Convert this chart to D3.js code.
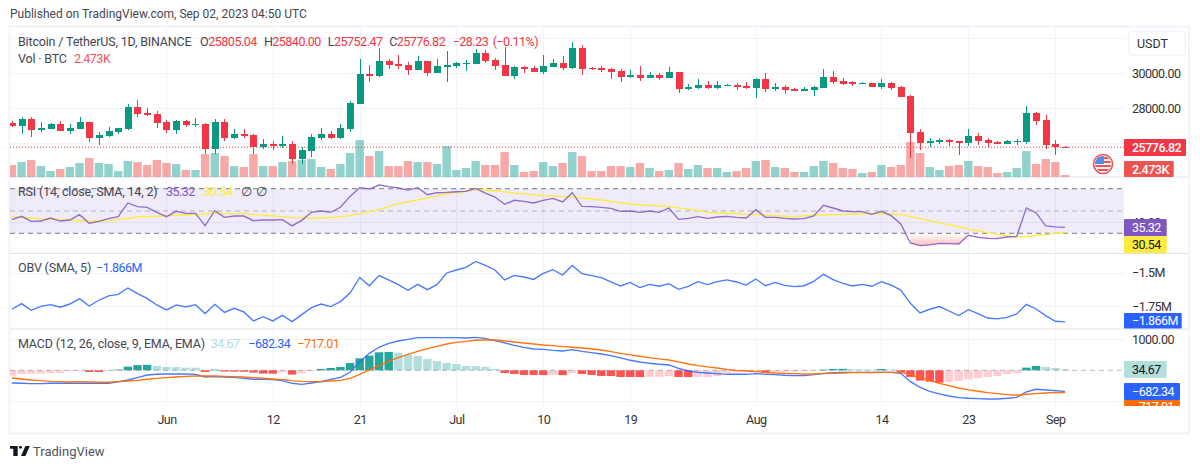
<!DOCTYPE html>
<html><head><meta charset="utf-8">
<style>
html,body{margin:0;padding:0;background:#fff;overflow:hidden}
text{font-family:Roboto,"Open Sans",sans-serif;}
</style>
<script src="https://cdn.jsdelivr.net/npm/d3@7/dist/d3.min.js"></script>
</head><body><svg id="c" width="1200" height="469" xmlns="http://www.w3.org/2000/svg"></svg>
<script>
const startDate = "2023-05-16";
const opens = [
27181,27010,27390,26762,26838,27105,26724,26838,27219,26324,26438,26648,26819,28076,27733,27676,
27219,26781,27276,27048,27105,25695,27219,26305,26533,26476,25790,25962,25848,25962,25105,25562,26305,26533,26305,26819,28248,29962,29848,30705,30533,30476,30191,30705,30019,30362,
30419,30533,30533,31162,30762,30476,29848,30362,30305,30076,30362,30591,30305,31448,30305,30305,30248,30133,29791,29905,29733,29905,29733,30076,29105,29162,29333,29162,29276,29333,29276,
29162,29676,29105,29219,29105,28991,29048,29162,29791,29562,29505,29391,29448,29219,29448,29219,28705,26648,26019,26076,26190,26133,26019,26419,26190,26076,25962,26076,26076,27733,27333,
25962,25805.04];
const highs = [
27276,27505,27505,27219,27162,27276,27105,27505,27219,26648,26933,26876,28248,28476,28019,27848,
27333,27333,27333,27448,27162,27390,27390,26819,26819,26533,26248,26133,26419,26133,25790,26533,26876,26705,27105,28419,30819,30476,31448,30819,31048,30648,30991,30705,30819,31276,
30648,30762,31391,31333,30876,31505,30419,30419,30419,31048,30819,30991,31790,31619,30362,30419,30305,30248,30191,30419,30076,30019,30362,30076,29391,29676,29562,29562,29391,29448,29505,
29733,30019,29448,29333,29162,29219,29276,30248,30133,29733,29562,29505,29448,29676,29505,29276,28762,26819,26305,26305,26248,26133,26819,26590,26305,26133,26190,26248,28133,27790,27619,
26190,25840];
const lows = [
26952,26533,26362,26667,26819,26705,26533,26819,26076,25905,26362,26533,26762,27505,27562,26876,
26590,26533,26952,26933,25390,25390,26133,26248,26305,25390,25676,25619,25733,24819,24819,25219,26190,26248,26248,26648,28248,29505,29791,30248,30248,29905,30191,29848,30019,29505,
30305,30133,30533,30591,30191,29848,29657,30019,30076,29962,30362,30191,30248,29905,30191,30076,29676,29505,29733,29562,29733,29619,29733,28876,29048,29105,29105,29105,29276,29048,29105,
28591,28933,28991,28819,28991,28991,28705,29162,29391,29333,29276,29391,29219,29105,29048,28648,25161,25619,25790,25962,25848,25333,25848,25905,25790,25962,25962,25905,25962,27048,25676,
25333,25752.47];
const closes = [
26990,27390,26781,26876,27105,26724,26876,27219,26324,26476,26705,26876,28076,27695,27619,27162,
26762,27276,27048,27105,25695,27219,26324,26533,26419,25790,25962,25848,25962,25105,25619,26362,26533,26305,26876,28305,29962,29848,30705,30476,30419,30191,30705,30019,30419,30476,
30591,30591,31162,30705,30419,29848,30362,30248,30076,30419,30591,30305,31448,30248,30248,30191,30076,29791,29905,29733,29905,29733,30076,29105,29219,29333,29162,29333,29333,29219,29162,
29676,29105,29219,29048,28991,29105,29219,29791,29505,29391,29391,29448,29219,29448,29162,28648,26590,26019,26133,26190,26076,26019,26419,26133,26019,25962,26133,26133,27733,27276,25905,
25790,25776.82];
const volumesK = [
14.9,18.6,21.1,13.6,7.4,9.9,12.4,17.4,23.6,17.4,16.1,7.4,19.8,18.6,14.9,21.1,
17.4,16.1,8.7,8.7,28.5,29.8,26.0,13.6,12.4,28.5,13.6,13.6,18.6,19.8,21.1,22.3,12.4,9.9,16.1,29.8,45.9,26.0,32.2,13.6,13.6,19.8,18.6,18.6,16.1,38.4,
8.7,11.2,19.8,14.9,14.9,31.0,14.9,6.2,7.4,18.6,13.6,17.4,31.0,26.0,7.4,7.4,13.6,13.6,12.4,17.4,11.2,7.4,8.7,17.4,9.9,14.9,11.2,11.2,6.2,7.4,11.2,
19.8,21.1,12.4,11.2,6.2,6.2,13.6,19.8,17.4,11.2,9.9,5.0,6.2,14.9,12.4,14.9,43.4,29.8,12.4,8.7,13.6,14.9,19.8,13.6,12.4,5.0,6.2,11.2,32.2,16.1,22.3,
18.6,2.473];
const rsi = [
42.2,45.2,40.7,41.0,43.7,41.0,41.9,46.7,39.0,40.7,43.1,44.9,57.2,53.9,53.3,48.8,
44.9,49.7,47.9,47.9,36.9,50.3,44.3,45.5,45.5,41.3,41.9,41.9,42.2,36.6,41.6,48.8,50.0,48.8,53.3,63.1,70.9,69.7,73.3,71.8,70.6,68.8,70.9,64.6,66.4,66.7,
67.3,67.6,70.3,66.1,62.5,56.0,59.6,58.7,57.2,59.6,61.3,58.1,66.4,54.2,53.9,53.3,52.4,49.7,50.0,48.8,50.0,48.8,52.7,42.5,43.4,44.9,43.4,44.6,45.2,44.3,43.7,
51.2,44.3,44.3,43.4,42.8,43.1,45.5,55.1,52.7,50.0,49.4,49.4,47.0,49.7,45.8,38.4,21.3,19.0,19.6,21.0,20.7,20.4,28.2,26.4,25.5,25.2,26.7,27.3,52.7,48.5,36.6,
35.7,35.32];
const rsiSma = [
44.9,44.4,43.7,43.2,42.7,42.2,41.8,41.5,41.1,40.8,41.3,42.2,43.4,44.6,45.0,45.3,
45.8,46.2,46.6,47.0,47.3,47.6,47.6,47.6,47.6,47.0,46.3,45.5,44.7,44.0,43.8,43.7,43.7,44.2,45.0,45.8,47.6,49.4,51.2,53.9,56.6,58.3,59.9,61.8,63.6,65.5,
66.7,67.9,69.1,68.8,68.2,67.2,66.1,65.3,64.5,63.7,63.3,62.9,62.5,61.6,60.8,59.9,58.7,57.5,56.3,55.7,55.1,54.5,53.9,52.8,51.7,50.6,48.8,48.4,48.0,47.6,47.1,
46.7,46.3,45.8,45.3,44.9,45.5,46.1,46.4,46.7,47.0,47.3,47.5,47.7,47.9,47.3,46.7,44.9,43.1,41.3,39.4,37.6,35.7,34.0,32.3,30.6,29.2,27.8,26.4,27.2,28.0,28.8,
30.0,30.54];
const obvM = [
-1.772,-1.730,-1.780,-1.750,-1.738,-1.757,-1.733,-1.693,-1.748,-1.705,-1.673,-1.661,-1.614,-1.656,-1.691,-1.740,
-1.777,-1.740,-1.755,-1.738,-1.804,-1.735,-1.795,-1.765,-1.792,-1.859,-1.827,-1.859,-1.817,-1.864,-1.812,-1.760,-1.733,-1.752,-1.715,-1.651,-1.535,-1.597,-1.522,-1.554,-1.589,-1.631,-1.587,-1.626,-1.589,-1.502,
-1.480,-1.460,-1.416,-1.446,-1.480,-1.554,-1.520,-1.532,-1.550,-1.505,-1.478,-1.517,-1.446,-1.507,-1.522,-1.537,-1.569,-1.599,-1.572,-1.611,-1.587,-1.601,-1.582,-1.624,-1.601,-1.567,-1.589,-1.567,-1.554,-1.569,-1.592,
-1.547,-1.597,-1.572,-1.594,-1.604,-1.597,-1.564,-1.512,-1.552,-1.579,-1.599,-1.587,-1.601,-1.567,-1.592,-1.629,-1.728,-1.799,-1.772,-1.752,-1.785,-1.819,-1.775,-1.804,-1.837,-1.844,-1.832,-1.807,-1.735,-1.770,-1.819,
-1.861,-1.866];
const macdHist = [
-172,-118,-108,-105,-86,-84,-32,-22,-54,-56,-22,22,118,168,177,140,
108,105,86,84,-54,22,-40,-45,-47,-75,-105,-110,-65,-140,-97,-32,43,75,108,237,387,473,580,591,570,495,462,366,301,237,
204,140,134,108,43,-86,-118,-150,-153,-155,-150,-156,-86,-118,-150,-183,-185,-215,-217,-219,-215,-211,-183,-215,-219,-217,-215,-183,-86,-65,-43,
-40,-75,-54,-52,-48,-32,-22,22,43,48,32,30,22,43,22,-65,-215,-333,-366,-398,-376,-344,-290,-247,-215,-183,-118,-86,86,140,108,
75,34.67];
const macdLine = [
-409,-419,-430,-430,-419,-419,-419,-419,-419,-419,-419,-376,-312,-237,-151,-129,
-118,-118,-118,-129,-215,-204,-215,-226,-258,-290,-290,-301,-333,-419,-452,-409,-366,-290,-226,-65,280,548,742,871,946,1000,1054,1054,1054,1054,
1054,1043,1064,1032,957,882,806,742,688,677,645,624,667,613,570,527,473,398,323,269,226,194,172,65,-22,-65,-86,-108,-129,-129,-129,
-108,-129,-140,-161,-172,-172,-140,-97,-75,-65,-65,-65,-65,-65,-65,-97,-366,-548,-677,-763,-828,-882,-903,-914,-925,-925,-903,-871,-699,-613,-634,
-656,-682.34];
const macdSignal = [
-247,-280,-312,-333,-355,-366,-376,-366,-376,-387,-387,-366,-344,-323,-290,-258,
-237,-215,-194,-183,-183,-183,-194,-204,-215,-237,-258,-280,-301,-333,-355,-366,-366,-344,-323,-258,-129,11,151,290,409,516,613,699,774,849,
903,935,968,978,978,946,914,882,849,817,796,763,742,720,688,656,602,548,495,452,409,366,333,269,204,151,108,75,32,0,-22,
-43,-65,-86,-97,-108,-118,-118,-108,-97,-86,-75,-75,-75,-65,-65,-65,-140,-237,-323,-419,-495,-570,-634,-677,-720,-753,-785,-806,-774,-753,-731,
-710,-717.01];
const timeTicks = ["2023-06-01","2023-06-12","2023-06-21","2023-07-01","2023-07-10","2023-07-19","2023-08-01","2023-08-14","2023-08-23","2023-09-01"];
const timeLabels = ["Jun","12","21","Jul","10","19","Aug","14","23","Sep"];
const priceTicks = [30000,28000];
const priceGrid = [32000,30000,28000,26000];
const rsiTicks = [40];
const obvTicks = [-1.5,-1.75];
const macdTicks = [1000];
const macdGrid = [1000,-1000];

const dates = closes.map((_,i)=>new Date(Date.parse(startDate+"T00:00:00Z")+i*864e5));
const svg = d3.select("#c");
const L=10,R=1124;
const x = d3.scaleUtc().domain([dates[0],dates[dates.length-1]]).range([11.9,1065]);
const yP = d3.scaleLinear().domain([30000,26000]).range([73.3,143.3]);
const yV = d3.scaleLinear().domain([0,46]).range([177,140]);
const yR = d3.scaleLinear().domain([70,30]).range([188.7,233.3]);
const yO = d3.scaleLinear().domain([-1.5,-1.75]).range([272.7,306.3]);
const yM = d3.scaleLinear().domain([1000,-1000]).range([339.3,401.3]);
const GREEN="#089981",RED="#f23645",GRID="#f0f3fa",SEP="#e0e3eb",TXT="#434651",PUR="#7e57c2",YEL="#ffeb3b",BLU="#2962ff",ORG="#ff6d00";

const defs=svg.append("defs");
const clip=(id,a,b)=>defs.append("clipPath").attr("id",id).append("rect").attr("x",a[0]).attr("y",a[1]).attr("width",b[0]).attr("height",b[1]);
clip("cMain",[L,28],[R-L,149]);
clip("cRsi",[L,178],[R-L,75]);
clip("cObv",[L,254],[R-L,75]);
clip("cMacd",[L,330],[R-L,76]);
clip("cLab",[1120,330],[80,76]);
const gr=defs.append("linearGradient").attr("id","os").attr("gradientUnits","userSpaceOnUse").attr("x1",0).attr("x2",0).attr("y1",yR(30)).attr("y2",yR(20));
gr.append("stop").attr("offset",0).attr("stop-color","#ffffff");
gr.append("stop").attr("offset",1).attr("stop-color","#ffc4c4");

// frame and grids
svg.append("rect").attr("x",9.5).attr("y",26.5).attr("width",1179.5).attr("height",407).attr("fill","none").attr("stroke",GRID).attr("stroke-width",2);
const tickDates=timeTicks.map(d=>new Date(d+"T00:00:00Z"));
svg.append("g").selectAll("line").data(tickDates).join("line")
 .attr("x1",d=>Math.round(x(d))+.5).attr("x2",d=>Math.round(x(d))+.5).attr("y1",28).attr("y2",406).attr("stroke",GRID);
const hgrid=(vals,sc)=>svg.append("g").selectAll("line").data(vals).join("line")
 .attr("x1",L).attr("x2",R).attr("y1",d=>Math.round(sc(d))+.5).attr("y2",d=>Math.round(sc(d))+.5).attr("stroke",GRID);
hgrid(priceGrid,yP);hgrid(rsiTicks,yR);hgrid(obvTicks,yO);hgrid(macdGrid,yM);
svg.append("g").selectAll("line").data([177,253.5,329]).join("line")
 .attr("x1",10).attr("x2",1188).attr("y1",d=>d).attr("y2",d=>d).attr("stroke",SEP).attr("stroke-width",1);

// main pane
const gMain=svg.append("g").attr("clip-path","url(#cMain)");
const up=i=>closes[i]>=opens[i];
gMain.append("g").selectAll("rect").data(volumesK).join("rect")
 .attr("x",(d,i)=>x(dates[i])-4.2).attr("width",8.4).attr("y",d=>yV(d)).attr("height",d=>177-yV(d))
 .attr("fill",(d,i)=>up(i)?"rgba(38,166,154,.5)":"rgba(239,83,80,.5)");
gMain.append("line").attr("x1",L).attr("x2",R).attr("y1",yP(closes[closes.length-1])).attr("y2",yP(closes[closes.length-1]))
 .attr("stroke",RED).attr("stroke-dasharray","1 2");
const cg=gMain.append("g").attr("shape-rendering","crispEdges");
cg.selectAll("line").data(closes).join("line")
 .attr("x1",(d,i)=>Math.round(x(dates[i]))+.5).attr("x2",(d,i)=>Math.round(x(dates[i]))+.5)
 .attr("y1",(d,i)=>yP(highs[i])).attr("y2",(d,i)=>yP(lows[i]))
 .attr("stroke",(d,i)=>up(i)?GREEN:RED);
cg.selectAll("rect").data(closes).join("rect")
 .attr("x",(d,i)=>Math.round(x(dates[i]))-3).attr("width",7)
 .attr("y",(d,i)=>yP(Math.max(opens[i],closes[i])))
 .attr("height",(d,i)=>Math.max(1,Math.abs(yP(opens[i])-yP(closes[i]))))
 .attr("fill",(d,i)=>up(i)?GREEN:RED);

// RSI pane
const gR=svg.append("g").attr("clip-path","url(#cRsi)");
gR.append("rect").attr("x",L).attr("width",R-L).attr("y",yR(70)).attr("height",yR(30)-yR(70)).attr("fill","rgba(126,87,194,.12)");
gR.append("path").datum(rsi).attr("fill","url(#os)")
 .attr("d",d3.area().defined(d=>d<30).x((d,i)=>x(dates[i])).y0(yR(30)).y1(d=>yR(d)));
[[70,1],[50,.5],[30,1]].forEach(([v,o])=>gR.append("line").attr("x1",L).attr("x2",R).attr("y1",yR(v)).attr("y2",yR(v))
 .attr("stroke","#787b86").attr("stroke-opacity",o).attr("stroke-dasharray","5 4"));
const lineOf=(sc)=>d3.line().x((d,i)=>x(dates[i])).y(d=>sc(d));
const lw=1.35, lo=.85;
gR.append("path").attr("d",lineOf(yR)(rsiSma)).attr("fill","none").attr("stroke",YEL).attr("stroke-width",lw);
gR.append("path").attr("d",lineOf(yR)(rsi)).attr("fill","none").attr("stroke",PUR).attr("stroke-width",lw).attr("stroke-opacity",lo);

// OBV pane
svg.append("g").attr("clip-path","url(#cObv)").append("path").attr("d",lineOf(yO)(obvM)).attr("fill","none").attr("stroke",BLU).attr("stroke-width",lw).attr("stroke-opacity",lo);

// MACD pane
const gM=svg.append("g").attr("clip-path","url(#cMacd)");
const histColor=(d,i)=>{const p=i?macdHist[i-1]:d-1;
 return d>=0?(d>p?"#26a69a":"#b2dfdb"):(d<p?"#ff5252":"#ffcdd2");};
gM.append("g").selectAll("rect").data(macdHist).join("rect")
 .attr("x",(d,i)=>x(dates[i])-4.2).attr("width",8.4)
 .attr("y",d=>Math.min(yM(d),yM(0))).attr("height",d=>Math.abs(yM(d)-yM(0)))
 .attr("fill",histColor);
gM.append("line").attr("x1",L).attr("x2",R).attr("y1",yM(0)).attr("y2",yM(0)).attr("stroke","#787b86").attr("stroke-opacity",.5).attr("stroke-dasharray","5 4");
gM.append("path").attr("d",lineOf(yM)(macdLine)).attr("fill","none").attr("stroke",BLU).attr("stroke-width",lw).attr("stroke-opacity",lo);
gM.append("path").attr("d",lineOf(yM)(macdSignal)).attr("fill","none").attr("stroke",ORG).attr("stroke-width",lw).attr("stroke-opacity",.95);

// axes
const NUM=-0.5;
const styleAxis=g=>{g.select(".domain").remove();g.selectAll("line").remove();
 g.selectAll("text").attr("font-size",12.5).attr("fill","#333").attr("letter-spacing",NUM);};
svg.append("g").attr("transform","translate(0,412)").call(d3.axisBottom(x).tickValues(tickDates).tickFormat((d,i)=>timeLabels[i]).tickSize(0).tickPadding(3)).call(styleAxis);
const rightAxis=(sc,vals,fmt)=>svg.append("g").attr("transform",`translate(${R},0)`).call(d3.axisRight(sc).tickValues(vals).tickFormat(fmt).tickSize(0).tickPadding(8)).call(styleAxis);
rightAxis(yP,priceTicks,d=>d.toFixed(2));
rightAxis(yR,rsiTicks,d=>d.toFixed(2));
rightAxis(yO,obvTicks,d=>"\u2212"+Math.abs(d)+"M");
rightAxis(yM,macdTicks,d=>d.toFixed(2));

// value labels
const label=(y0,y1,w,bg,fg,t,opts={})=>{
 const g=svg.append("g"); if(opts.clip) g.attr("clip-path","url(#cLab)");
 g.append("rect").attr("x",R).attr("y",y0).attr("width",w).attr("height",y1-y0).attr("fill",bg).attr("rx",1);
 g.append("text").attr("x",R+8).attr("y",(y0+y1)/2+4.5).attr("font-size",12.5).attr("letter-spacing",NUM).attr("font-weight",opts.bold?500:400).attr("fill",fg).text(t);
};
label(139,156,62,RED,"#fff",closes[closes.length-1].toFixed(2),{bold:1});
label(161,177,49.7,"#ef5350","#fff",volumesK[volumesK.length-1].toFixed(3)+"K",{bold:1});
label(219,236.3,42.7,PUR,"#fff",rsi[rsi.length-1].toFixed(2));
label(236.3,253,42.7,YEL,"#131722",rsiSma[rsiSma.length-1].toFixed(2));
label(313,328.5,57.7,BLU,"#fff","\u2212"+Math.abs(obvM[obvM.length-1]).toFixed(3)+"M");
label(361,377.7,42.7,"#b2dfdb","#131722",macdHist[macdHist.length-1].toFixed(2));
label(383,400,56,BLU,"#fff","\u2212"+Math.abs(macdLine[macdLine.length-1]).toFixed(2));
label(400,406,56,ORG,"#fff","\u2212"+Math.abs(macdSignal[macdSignal.length-1]).toFixed(2),{clip:1});
svg.select("g[clip-path='url(#cLab)'] text").attr("y",411.2);

// legends: [text, colour, start x, letter spacing]
const legend=(yp,parts)=>{const t=svg.append("text").attr("y",yp).attr("font-size",12.5);
 parts.forEach(([s,c,xp,ls])=>t.append("tspan").attr("fill",c).attr("x",xp).attr("letter-spacing",ls===undefined?NUM:ls).text(s));};
const lr="#f23645", LS=-0.17;
legend(46,[["Bitcoin / TetherUS, 1D, BINANCE",TXT,18,LS],["O",TXT,200,0],["25805.04",lr,208.3],["H",TXT,264,0],["25840.00",lr,272.3],["L",TXT,327.7,0],["25752.47",lr,334],["C",TXT,389.3,0],["25776.82",lr,396.7],["\u221228.23",lr,452.7],["(\u22120.11%)",lr,492.7]]);
legend(63,[["Vol \u00b7 BTC",TXT,18,LS],["2.473K","#f7525f",74]]);
legend(196,[["RSI (14, close, SMA, 14, 2)",TXT,18,LS],["35.32",PUR,166],["30.54",YEL,203.3],["\u2205",TXT,240.7,-1],["\u2205",TXT,256,-1]]);
legend(272,[["OBV (SMA, 5)",TXT,18,LS],["\u22121.866M",BLU,96]]);
legend(348,[["MACD (12, 26, close, 9, EMA, EMA)",TXT,18,LS],["34.67","#b2dfdb",210.7],["\u2212682.34",BLU,248.3],["\u2212717.01",ORG,297.3]]);

// header and footer
svg.append("text").attr("x",10).attr("y",18).attr("font-size",12).attr("fill",TXT).text("Published on TradingView.com, Sep 02, 2023 04:50 UTC");
svg.append("path").attr("transform","translate(10,443) scale(.55,.48)").attr("fill","#131722")
 .attr("d","M14 6H0v6h6v15h8V6Zm14 21h-8l8-21h8l-8 21Zm-9-15a3 3 0 1 0 0-6 3 3 0 0 0 0 6Z");
svg.append("text").attr("x",33).attr("y",456).attr("font-size",13).attr("fill","#50535e").text("TradingView");

// currency button
svg.append("rect").attr("x",1128.5).attr("y",31.5).attr("width",57).attr("height",24).attr("rx",4).attr("fill","#fff").attr("stroke",GRID).attr("stroke-width",1.5);
svg.append("text").attr("x",1137).attr("y",48).attr("font-size",12.5).attr("fill","#333").text("USDT");

// flag badge
const f=svg.append("g").attr("transform","translate(1103,164)");
f.append("clipPath").attr("id","cf").append("circle").attr("r",8);
f.append("circle").attr("r",9.5).attr("fill","#fff").attr("stroke","#f0525a").attr("stroke-width",1.6);
const fi=f.append("g").attr("clip-path","url(#cf)");
fi.append("rect").attr("x",-8).attr("y",-8).attr("width",16).attr("height",16).attr("fill","#f5f5f5");
[-7,-3,1,5].forEach(yy=>fi.append("rect").attr("x",-8).attr("y",yy).attr("width",16).attr("height",2).attr("fill","#ef5350"));
fi.append("rect").attr("x",-8).attr("y",-8).attr("width",9).attr("height",8).attr("fill","#4d8fe8");
</script></body></html>
